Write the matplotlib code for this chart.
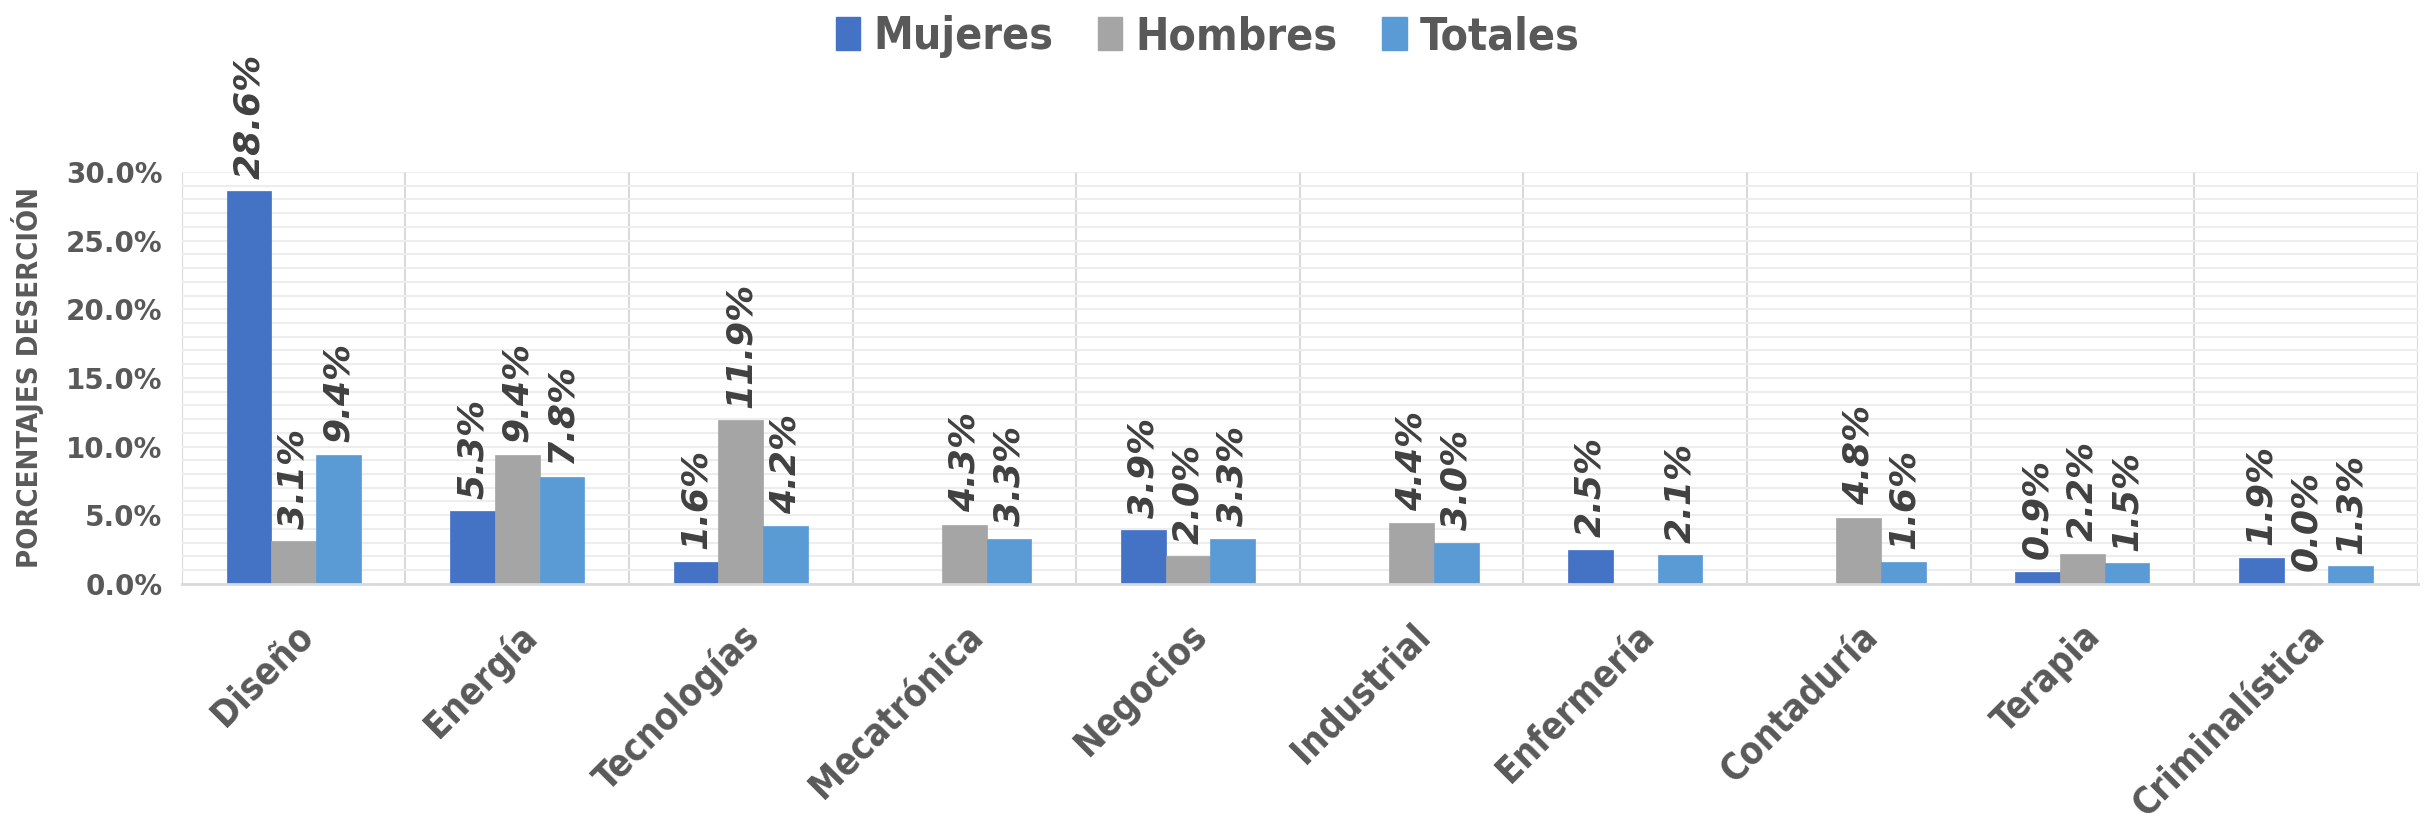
import numpy as np
import matplotlib
matplotlib.use("Agg")
import matplotlib.pyplot as plt
from matplotlib.ticker import MultipleLocator, FuncFormatter
from matplotlib.patches import Patch

categories = ["Diseño", "Energía", "Tecnologías", "Mecatrónica", "Negocios",
              "Industrial", "Enfermería", "Contaduría", "Terapia", "Criminalística"]
series_names = ["Mujeres", "Hombres", "Totales"]
mujeres = [28.6, 5.3, 1.6, np.nan, 3.9, np.nan, 2.5, np.nan, 0.9, 1.9]
hombres = [3.1, 9.4, 11.9, 4.3, 2.0, 4.4, np.nan, 4.8, 2.2, 0.0]
totales = [9.4, 7.8, 4.2, 3.3, 3.3, 3.0, 2.1, 1.6, 1.5, 1.3]
colors = ["#4472C4", "#A5A5A5", "#5B9BD5"]

plt.rcParams['font.family'] = ['DejaVu Sans']
txt = "#595959"
lab = "#404040"

fig = plt.figure(figsize=(24.25, 8.27), dpi=100)
ax = fig.add_axes([0.075, 0.294, 0.922, 0.498])

x = np.arange(len(categories))
w = 0.2
for i, (vals, c) in enumerate(zip([mujeres, hombres, totales], colors)):
    xs = x + (i - 1) * w
    v = np.array(vals, dtype=float)
    ax.bar(xs, np.nan_to_num(v), width=w, color=c, edgecolor=c, linewidth=0.5, zorder=3)
    for xi, vi in zip(xs, v):
        if np.isnan(vi):
            continue
        ax.annotate(f"{vi:.1f}%", (xi, vi), xytext=(0, 9), textcoords="offset points",
                    rotation=90, ha="center", va="bottom", fontsize=26,
                    fontweight="bold", fontstyle="italic", color=lab,
                    annotation_clip=False, zorder=4)

ax.set_xlim(-0.5, len(categories) - 0.5)
ax.set_ylim(0, 30)
ax.yaxis.set_major_locator(MultipleLocator(5))
ax.yaxis.set_minor_locator(MultipleLocator(1))
ax.yaxis.set_major_formatter(FuncFormatter(lambda v, p: f"{v:.1f}%"))
ax.grid(axis="y", which="both", color="#EDEDED", linewidth=1.5, zorder=0)
for k in range(len(categories) + 1):
    ax.axvline(k - 0.5, color="#D9D9D9", linewidth=1.5, zorder=1)

for s in ["top", "right", "left"]:
    ax.spines[s].set_visible(False)
ax.spines["bottom"].set_color("#D9D9D9")
ax.spines["bottom"].set_linewidth(2)
ax.spines["bottom"].set_zorder(5)

ax.tick_params(axis="y", which="both", length=0, pad=14, labelsize=20, labelcolor=txt)
ax.tick_params(axis="x", length=0, pad=24)
for t in ax.get_yticklabels():
    t.set_fontweight("bold")

ax.set_xticks(x)
ax.set_xticklabels(categories, rotation=45, ha="right", rotation_mode="anchor",
                   fontsize=26.5, fontweight="bold", fontstretch="condensed", color=txt)

ax.set_ylabel("PORCENTAJES DESERCIÓN", fontsize=21, color=txt, labelpad=16,
              fontweight="semibold", fontstretch="condensed")

handles = [Patch(facecolor=c, edgecolor=c) for c in colors]
leg = fig.legend(handles, series_names, loc="upper center", bbox_to_anchor=(0.498, 1.03),
                 ncol=3, frameon=False, handlelength=0.55, handleheight=0.75,
                 handletextpad=0.3, columnspacing=1.0,
                 prop=dict(family="DejaVu Sans", stretch="condensed", weight="bold", size=32))
for t in leg.get_texts():
    t.set_color(txt)

fig.savefig("out.png", dpi=100)
